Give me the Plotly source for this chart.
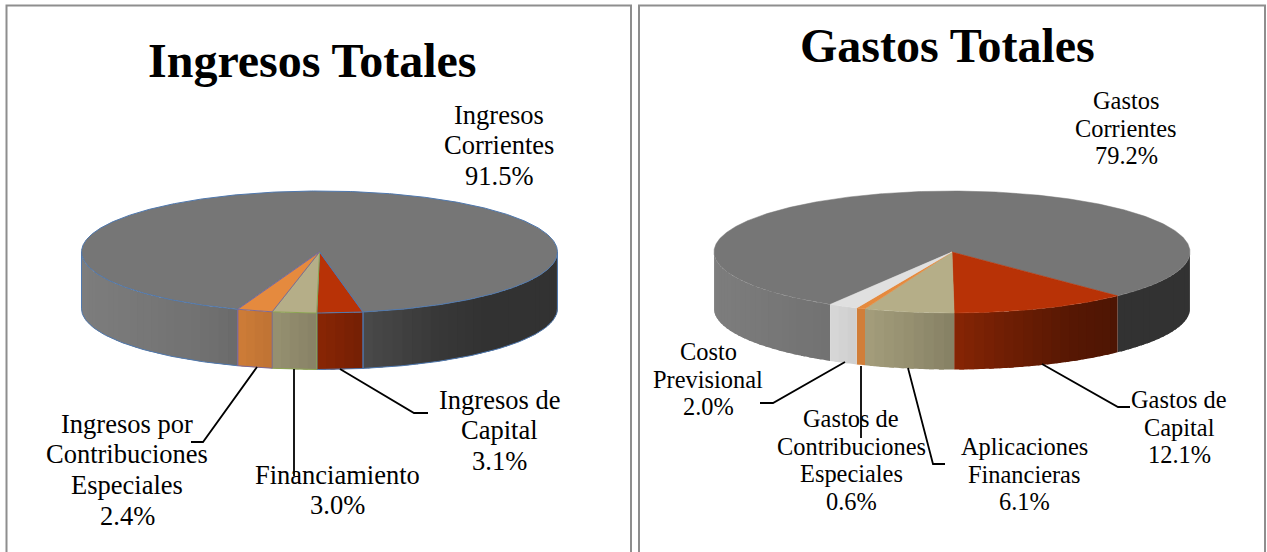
import numpy as np
import plotly.graph_objects as go

W, H = 1267, 552

# ---- data ----
left_title = "Ingresos Totales"
left_labels = ["Ingresos Corrientes", "Ingresos de Capital", "Financiamiento",
               "Ingresos por Contribuciones Especiales"]
left_values = [91.5, 3.1, 3.0, 2.4]

right_title = "Gastos Totales"
right_labels = ["Gastos Corrientes", "Gastos de Capital", "Aplicaciones Financieras",
                "Gastos de Contribuciones Especiales", "Costo Previsional"]
right_values = [79.2, 12.1, 6.1, 0.6, 2.0]

left_colors = ["#767676", "#B83206", "#B5AE88", "#E58A3E"]
right_colors = ["#767676", "#B83206", "#B5AE88", "#E58A3E", "#E0E0E0"]
left_outlines = ["#4F78AE", "#4F78AE", "#8CA552", "#7C6A98"]

# text lines of every data label, with the centre x and first-line y
left_text = [
    (["Ingresos", "Corrientes", "91.5%"], 499, 114.5),
    (["Ingresos de", "Capital", "3.1%"], 499, 399.5),
    (["Financiamiento", "3.0%"], 337, 474.5),
    (["Ingresos por", "Contribuciones", "Especiales", "2.4%"], 127, 423.5),
]
right_text = [
    (["Gastos", "Corrientes", "79.2%"], 1126, 100.5),
    (["Gastos de", "Capital", "12.1%"], 1179, 399.5),
    (["Aplicaciones", "Financieras", "6.1%"], 1024, 446.5),
    (["Gastos de", "Contribuciones", "Especiales", "0.6%"], 851, 418.5),
    (["Costo", "Previsional", "2.0%"], 708, 351.5),
]
# leader lines
left_leaders = [
    ([340, 414, 428], [369, 413, 413]),
    ([294, 294], [369, 476]),
    ([257, 203, 191], [367, 442, 442]),
]
right_leaders = [
    ([1042, 1118, 1130], [364, 407, 407]),
    ([908, 933, 945], [368, 464, 464]),
    ([861, 861], [366, 438]),
    ([845, 773, 760], [362, 403, 403]),
]

SHADE_T = [-1, -.5, -.35, -.19, 0, .18, .5, .7, 1]
SHADE_M = [1.06, .96, .9, .83, .74, .63, .47, .42, .42]
RX, RY, DEPTH, CY = 238, 61, 56.5, 252


def shade(color, t):
    m = float(np.interp(t, SHADE_T, SHADE_M))
    rgb = [int(color[i:i + 2], 16) for i in (1, 3, 5)]
    return "rgb({},{},{})".format(*[min(255, int(round(c * m))) for c in rgb])


def pt(cx, phi):
    a = np.radians(phi)
    return cx + RX * np.sin(a), CY - RY * np.cos(a)


def add_pie(fig, cx, values, colors, start, axis, outlines=None):
    xa, ya = ("x", "y") if axis == 1 else ("x2", "y2")
    total = sum(values)
    edges = start + np.concatenate([[0], np.cumsum(values)]) * 360 / total

    def poly(xs, ys, fill, line=None, lw=0.6):
        fig.add_trace(go.Scatter(x=xs, y=ys, mode="lines", fill="toself",
                                 fillcolor=fill, line=dict(color=line or fill, width=lw),
                                 hoverinfo="skip", showlegend=False, xaxis=xa, yaxis=ya))

    def band(xs, ys, fill):
        fig.add_trace(go.Scatter(x=xs, y=ys, mode="none", fill="toself", fillcolor=fill,
                                 hoverinfo="skip", showlegend=False, xaxis=xa, yaxis=ya))

    def stroke(xs, ys, col):
        fig.add_trace(go.Scatter(x=xs, y=ys, mode="lines", line=dict(color=col, width=1),
                                 hoverinfo="skip", showlegend=False, xaxis=xa, yaxis=ya))

    # walls of the front half, painted from the right (low angle) to the left;
    # every band reaches back under the previous one so no seam shows through
    for i, col in enumerate(colors):
        a0, a1 = edges[i], edges[i + 1]
        for k in (-360, 0, 360):
            lo, hi = max(a0 + k, 90), min(a1 + k, 270)
            if hi <= lo:
                continue
            n = max(1, int(np.ceil((hi - lo) / 2.5)))
            steps = np.linspace(lo, hi, n + 1)
            for s0, s1 in zip(steps[:-1], steps[1:]):
                x, _ = pt(cx, np.linspace(s0, s1, 2))
                t = (x.mean() - cx) / RX
                ph = np.linspace(s0, min(s1 + 1.2, hi), 5)
                x, y = pt(cx, ph)
                band(np.r_[x, x[::-1], x[0]], np.r_[y, y[::-1] + DEPTH, y[0]], shade(col, t))
            if outlines:
                ph = np.linspace(lo, hi, 60)
                x, y = pt(cx, ph)
                stroke(np.r_[x[0], x, x[-1]], np.r_[y[0] + DEPTH, y + DEPTH, y[-1]], outlines[i])
                stroke([x[0], x[0]], [y[0], y[0] + DEPTH], outlines[i])
                stroke([x[-1], x[-1]], [y[-1], y[-1] + DEPTH], outlines[i])
    # top face
    for i, col in enumerate(colors):
        ph = np.linspace(edges[i], edges[i + 1], max(3, int((edges[i + 1] - edges[i]) * 2)))
        x, y = pt(cx, ph)
        line = outlines[i] if outlines else col
        poly(np.r_[cx, x, cx], np.r_[CY, y, CY], col, line, 1 if outlines else 0.5)


def add_text(fig, items, size, lh, axis):
    xa, ya = ("x", "y") if axis == 1 else ("x2", "y2")
    for lines, x, y0 in items:
        for j, s in enumerate(lines):
            fig.add_annotation(x=x, y=y0 + j * lh, xref=xa, yref=ya, text=s, showarrow=False,
                               xanchor="center", yanchor="middle",
                               font=dict(family="Liberation Serif", size=size, color="#000000"))


def add_leaders(fig, leaders, axis):
    xa, ya = ("x", "y") if axis == 1 else ("x2", "y2")
    for xs, ys in leaders:
        fig.add_trace(go.Scatter(x=xs, y=ys, mode="lines", line=dict(color="#000000", width=1.8),
                                 hoverinfo="skip", showlegend=False, xaxis=xa, yaxis=ya))


fig = go.Figure()
add_pie(fig, 319.5, left_values, left_colors, 200.1, 1, left_outlines)
add_pie(fig, 952, right_values, right_colors, -149.2, 2)
add_leaders(fig, left_leaders, 1)
add_leaders(fig, right_leaders, 2)
add_text(fig, left_text, 26.5, 30.7, 1)
add_text(fig, right_text, 24.4, 27.6, 2)

for title, x, y, ax in ((left_title, 312, 60, "x"), (right_title, 947, 45, "x2")):
    fig.add_annotation(x=x, y=y, xref=ax, yref="y" if ax == "x" else "y2", text="<b>%s</b>" % title,
                       showarrow=False, xanchor="center", yanchor="middle",
                       font=dict(family="Liberation Serif", size=48, color="#000000"))

for x0, x1, ax in ((6.5, 631, "x"), (639, 1265, "x2")):
    fig.add_shape(type="rect", x0=x0, x1=x1, y0=5.5, y1=620, xref=ax, yref="y" if ax == "x" else "y2",
                  line=dict(color="#8E8E8E", width=2), fillcolor="rgba(0,0,0,0)", layer="below")

split = 635
hidden = dict(visible=False, fixedrange=True)
fig.update_layout(
    width=W, height=H, margin=dict(l=0, r=0, t=0, b=0), paper_bgcolor="white", plot_bgcolor="white",
    showlegend=False,
    xaxis=dict(domain=[0, split / W], range=[0, split], **hidden),
    yaxis=dict(domain=[0, 1], range=[H, 0], **hidden),
    xaxis2=dict(domain=[split / W, 1], range=[split, W], anchor="y2", **hidden),
    yaxis2=dict(domain=[0, 1], range=[H, 0], anchor="x2", **hidden),
)
fig.write_html("out.html", config={"displayModeBar": False},
               post_script="document.body.style.margin='0';")
